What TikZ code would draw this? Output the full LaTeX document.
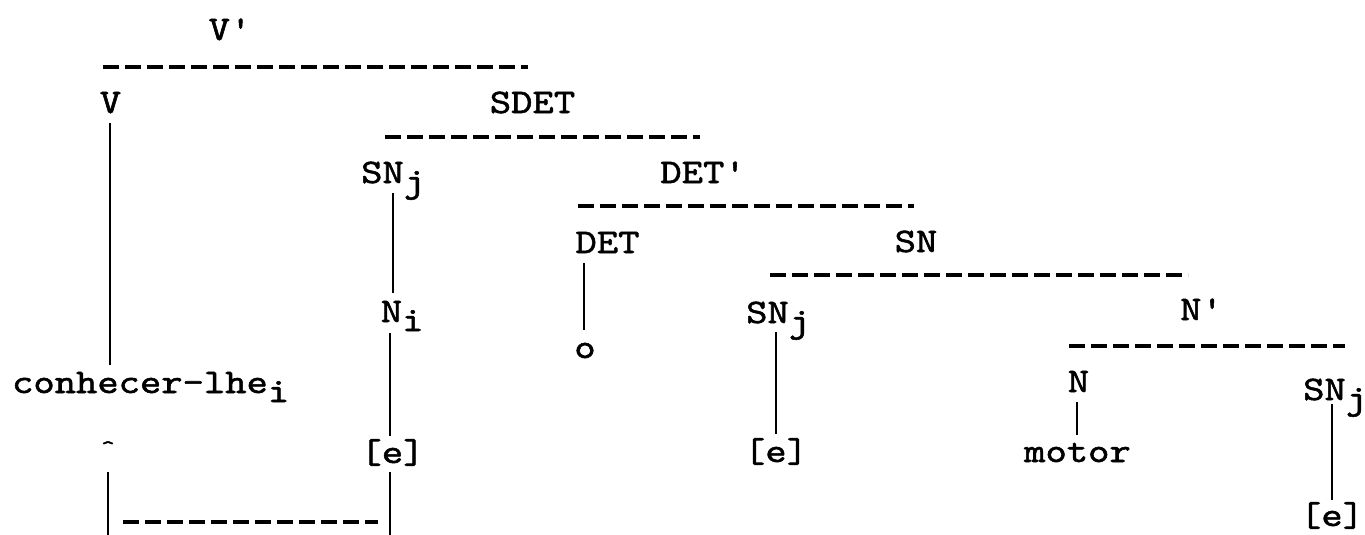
\documentclass[tikz,border=0pt]{standalone}
\usepackage{fontspec}
\setmonofont{lmmono10-regular.otf}[FakeStretch=1.18,FakeBold=1.6]
\usetikzlibrary{calc}
\newcommand\lowsub[1]{\rlap{\raisebox{-9pt}{#1}}}
\begin{document}
\begin{tikzpicture}[x=1pt,y=-1pt,
  lbl/.style={anchor=base,inner sep=0pt,outer sep=0pt,font=\ttfamily\fontsize{34.4}{34}\selectfont},
  caret/.style={anchor=center,inner sep=0pt,outer sep=0pt,font=\ttfamily\fontsize{22}{22}\selectfont},
  vl/.style={line width=2.7pt},
  hd/.style={line width=3.5pt,dash pattern=on 16pt off 6pt}]
\useasboundingbox (0,0) rectangle (1365,535);
% labels
\node[lbl] (vp) at (230,40) {V'};
\node[lbl] (v) at (110.5,113) {V};
\node[lbl] (sdet) at (532.5,113) {SDET};
\node[lbl] (snj1) at (382.5,183) {SN\lowsub{j}};
\node[lbl] (detp) at (703,183) {DET'};
\node[lbl] (det) at (607.5,253) {DET};
\node[lbl] (sn) at (916,252) {SN};
\node[lbl] (ni) at (391.5,322) {N\lowsub{i}};
\node[lbl] (o) at (585,358) {o};
\node[lbl] (snj2) at (767.5,323) {SN\lowsub{j}};
\node[lbl] (np) at (1201.5,320) {N'};
\node[lbl] (conh) at (140,393) {conhecer-lhe\lowsub{i}};
\node[lbl] (n) at (1078.5,392) {N};
\node[lbl] (snj3) at (1324.5,400) {SN\lowsub{j}};
\node[lbl] (e1) at (392.5,463) {[e]};
\node[lbl] (e2) at (776,462) {[e]};
\node[lbl] (motor) at (1077.5,462) {motor};
\node[lbl] (e3) at (1332,526) {[e]};
\node[caret] (car) at (108,448) {\textasciicircum};
% free ends
\coordinate (b1) at (390,540);
\coordinate (b2) at (108,540);
\coordinate (h1a) at (103,67);  \coordinate (h1b) at (528,67);
\coordinate (h2a) at (385,137); \coordinate (h2b) at (700,137);
\coordinate (h3a) at (578,206); \coordinate (h3b) at (914,206);
\coordinate (h4a) at (770,275); \coordinate (h4b) at (1188,275);
\coordinate (h5a) at (1069,346);\coordinate (h5b) at (1345,346);
\coordinate (h6a) at (123,522); \coordinate (h6b) at (378,522);
% dashed branches
\draw[hd] (h1a) -- (h1b);
\draw[hd] (h2a) -- (h2b);
\draw[hd] (h3a) -- (h3b);
\draw[hd] (h4a) -- (h4b);
\draw[hd] (h5a) -- (h5b);
\draw[hd] (h6a) -- (h6b);
% vertical branches
\draw[vl] ($(v.base)+(-0.5,10)$) -- ($(conh.base)+(-30,-28)$);
\draw[vl] ($(snj1.base)+(10.5,10)$) -- ($(ni.base)+(1.5,-29)$);
\draw[vl] ($(ni.base)+(-1.5,11)$) -- ($(e1.base)+(-2.5,-27)$);
\draw[vl] ($(e1.base)+(-2.5,9)$) -- (b1);
\draw[vl] ($(car.center)+(0,24)$) -- (b2);
\draw[vl] ($(det.base)+(-23.5,10)$) -- ($(o.base)+(-1,-28)$);
\draw[vl] ($(snj2.base)+(8.5,9)$) -- ($(e2.base)+(0,-28)$);
\draw[vl] ($(n.base)+(-1.5,10)$) -- ($(motor.base)+(-0.5,-27)$);
\draw[vl] ($(snj3.base)+(7.5,4)$) -- ($(e3.base)+(0,-26)$);
\end{tikzpicture}
\end{document}
